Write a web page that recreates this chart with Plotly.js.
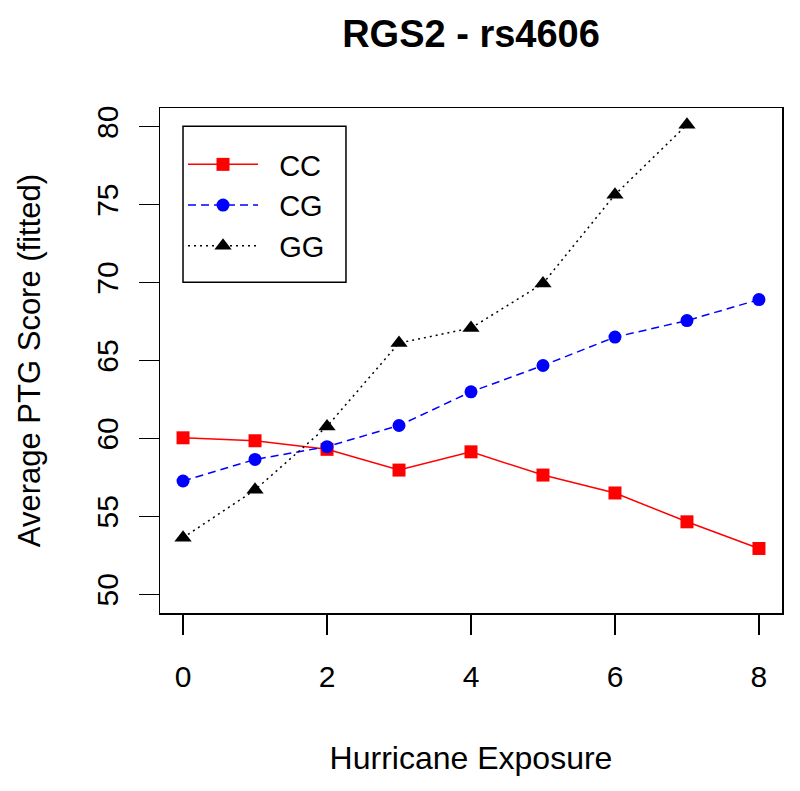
<!DOCTYPE html>
<html>
<head>
<meta charset="utf-8">
<script src="https://cdn.plot.ly/plotly-3.0.1.min.js"></script>
<style>html,body{margin:0;padding:0;background:#fff;}#chart{width:800px;height:791px;}</style>
</head>
<body>
<div id="chart"></div>
<script>
const exposure = [0, 1, 2, 3, 4, 5, 6, 7, 8];
const ccValues = [60.04, 59.85, 59.3, 57.97, 59.14, 57.65, 56.5, 54.65, 52.94];
const cgValues = [57.27, 58.65, 59.47, 60.83, 62.99, 64.68, 66.5, 67.56, 68.91];
const ggExposure = [0, 1, 2, 3, 4, 5, 6, 7];
const ggValues = [53.63, 56.7, 60.77, 66.12, 67.08, 69.94, 75.64, 80.13];
const xTicks = [0, 2, 4, 6, 8];
const yTicks = [50, 55, 60, 65, 70, 75, 80];

const FONT = 'Liberation Sans, Arial, sans-serif';

const traces = [
  {x: exposure, y: ccValues, name: '&nbsp;&nbsp;CC', mode: 'lines+markers', type: 'scatter',
   line: {color: '#ff0000', width: 1.5, dash: 'solid'},
   marker: {symbol: 'square', size: 13, color: '#ff0000'}},
  {x: exposure, y: cgValues, name: '&nbsp;&nbsp;CG', mode: 'lines+markers', type: 'scatter',
   line: {color: '#0000ff', width: 1.5, dash: '8px,5px'},
   marker: {symbol: 'circle', size: 13, color: '#0000ff'}},
  {x: ggExposure, y: ggValues, name: '&nbsp;&nbsp;GG', mode: 'lines+markers', type: 'scatter',
   line: {color: '#000000', width: 1.5, dash: '2px,4px'},
   marker: {symbol: 'triangle-up', size: 15, color: '#000000'}}
];

const layout = {
  width: 800, height: 791,
  paper_bgcolor: '#ffffff', plot_bgcolor: '#ffffff',
  margin: {l: 160, r: 18, t: 108, b: 178, pad: 0},
  font: {family: FONT, color: '#000', size: 30},
  title: {text: '<b>RGS2 - rs4606</b>', x: 0.5, xref: 'paper', y: 0.957, yanchor: 'middle',
          font: {family: FONT, size: 38, color: '#000'}},
  showlegend: true,
  legend: {x: 0.037, y: 0.9386, xanchor: 'left', yanchor: 'top',
           borderwidth: 0, bgcolor: 'rgba(0,0,0,0)',
           font: {family: FONT, size: 29}, itemwidth: 70, tracegroupgap: 0},
  shapes: [
    {type: 'rect', xref: 'paper', yref: 'paper', x0: 0.037, x1: 0.299, y0: 0.655, y1: 0.964,
     line: {color: '#000', width: 1.5}, fillcolor: 'rgba(0,0,0,0)', layer: 'above'}
  ],
  xaxis: {
    range: [-0.32, 8.32], tickmode: 'array', tickvals: xTicks, ticktext: xTicks.map(String),
    showgrid: false, zeroline: false, showline: true, mirror: true, linecolor: '#000', linewidth: 1.5,
    ticks: 'outside', ticklen: 20, tickwidth: 1.5, tickcolor: '#000', ticklabelstandoff: 16,
    tickfont: {family: FONT, size: 30},
    title: {text: 'Hurricane Exposure', font: {family: FONT, size: 32}, standoff: 55}
  },
  yaxis: {
    range: [48.8, 81.2], tickmode: 'array', tickvals: yTicks, ticktext: yTicks.map(String),
    showgrid: false, zeroline: false, showline: true, mirror: true, linecolor: '#000', linewidth: 1.5,
    ticks: 'outside', ticklen: 20, tickwidth: 1.5, tickcolor: '#000', tickangle: -90,
    ticklabelstandoff: 9,
    tickfont: {family: FONT, size: 30},
    title: {text: 'Average PTG Score (fitted)', font: {family: FONT, size: 31}, standoff: 40}
  }
};

Plotly.newPlot('chart', traces, layout, {staticPlot: true, displayModeBar: false});
</script>
</body>
</html>
